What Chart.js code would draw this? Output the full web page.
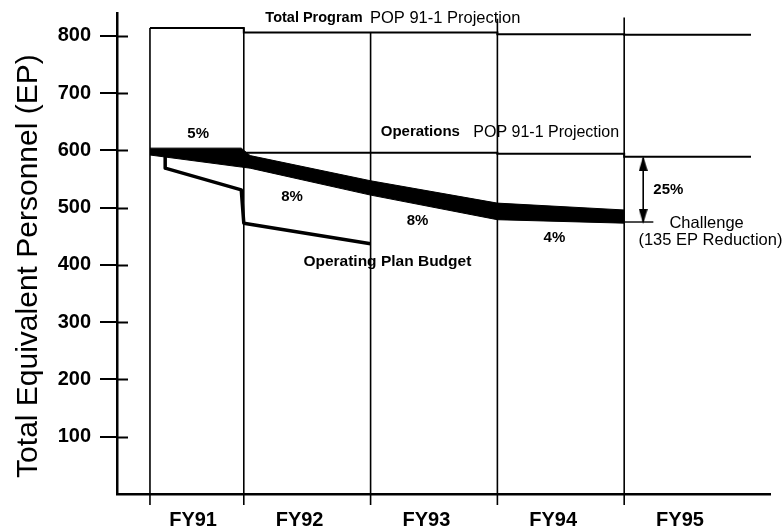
<!DOCTYPE html>
<html>
<head>
<meta charset="utf-8">
<title>Total Equivalent Personnel (EP)</title>
<script src="https://cdn.jsdelivr.net/npm/chart.js@4.4.1/dist/chart.umd.min.js"></script>
<style>
    html, body { margin: 0; padding: 0; background: #fff; }
    #wrap { width: 782px; height: 529px; }
</style>
</head>
<body>
<div id="wrap"><canvas id="chart" width="782" height="529"></canvas></div>
<script>
// fiscal years, x axis in years (FY92 starts at 92)
var fyLabels = ['FY91', 'FY92', 'FY93', 'FY94', 'FY95'];
var fyLabelPos = [91.6, 92.44, 93.44, 94.44, 95.44];
var yTicks = [100, 200, 300, 400, 500, 600, 700, 800];

// year boundaries and how high each boundary line reaches
var boundaryX = [91.26, 92, 93, 94, 95];
var boundaryTop = [814, 814, 806, 830, 832];

// Total Program POP 91-1 projection (level held from each x to the next)
var totalX = [91.26, 92, 93, 94, 95, 96];
var totalY = [814, 806, 806, 803, 802, 802];

// Operations POP 91-1 projection
var opsX = [92, 94, 95, 96];
var opsY = [596, 594, 589, 589];

// challenge band (upper and lower edge)
var bandX = [91.26, 91.98, 92.05, 93, 94, 95];
var bandTop = [604, 604, 591, 547, 508, 496];
var bandBottom = [592, 571, 569, 522, 479, 473];

// Operating Plan Budget
var planX = [91.38, 91.38, 91.98, 92, 93];
var planY = [592, 569, 531, 473, 437];

// 25% arrow
var arrowX = [95.15, 95.15];
var arrowY = [587, 475];
var arrowHeadY = [577, 485];
var challengeX = [95, 95.23];
var challengeY = [475, 475];

;(function (document, window) {
    'use strict';

    var FONT = "'Liberation Sans', Arial, Helvetica, sans-serif";

    function pts(xs, ys) {
        return xs.map(function (x, i) {
            return {x: x, y: ys[i]};
        });
    }

    function lineSet(data, width, extra) {
        var ds = {
            data: data,
            borderColor: '#000',
            backgroundColor: '#000',
            borderWidth: width,
            pointRadius: 0,
            fill: false,
            tension: 0
        };
        for (var k in extra) {
            ds[k] = extra[k];
        }
        return ds;
    }

    // arrow head used as point style
    function arrowHead() {
        var c = document.createElement('canvas');
        c.width = 9;
        c.height = 15;
        var g = c.getContext('2d');
        g.fillStyle = '#000';
        g.beginPath();
        g.moveTo(4.5, 0);
        g.lineTo(9, 15);
        g.lineTo(0, 15);
        g.closePath();
        g.fill();
        return c;
    }

    var datasets = [];

    boundaryX.forEach(function (bx, i) {
        datasets.push(lineSet(pts([bx, bx], [-19, boundaryTop[i]]), 1.6, {clip: false}));
    });
    datasets.push(lineSet(pts(totalX, totalY), 2, {stepped: true}));
    datasets.push(lineSet(pts(opsX, opsY), 2, {stepped: true}));
    datasets.push(lineSet(pts(bandX, bandTop), 1, {}));
    datasets.push(lineSet(pts(bandX, bandBottom), 1, {fill: '-1'}));
    datasets.push(lineSet(pts(planX, planY), 3.5, {borderJoinStyle: 'round'}));
    datasets.push(lineSet(pts(arrowX, arrowY), 1.6, {}));
    datasets.push(lineSet(pts(challengeX, challengeY), 1.4, {}));
    var head = arrowHead();
    datasets.push({
        data: pts(arrowX, arrowHeadY),
        showLine: false,
        pointStyle: head,
        pointRotation: [0, 180],
        pointRadius: 8,
        borderWidth: 0
    });

    // text placed on the plot, x/y in data units
    var notes = [
        {text: 'Total Program', x: 92.17, y: 831, weight: 'bold', size: 14.5, align: 'left'},
        {text: 'POP 91-1 Projection', x: 92.995, y: 831, weight: 'normal', size: 16.5, align: 'left'},
        {text: 'Operations', x: 93.08, y: 632, weight: 'bold', size: 15, align: 'left'},
        {text: 'POP 91-1 Projection', x: 93.81, y: 632, weight: 'normal', size: 16, align: 'left'},
        {text: '5%', x: 91.64, y: 629, weight: 'bold', size: 15, align: 'center'},
        {text: '8%', x: 92.38, y: 519, weight: 'bold', size: 15, align: 'center'},
        {text: '8%', x: 93.37, y: 477, weight: 'bold', size: 15, align: 'center'},
        {text: '4%', x: 94.45, y: 447, weight: 'bold', size: 15, align: 'center'},
        {text: '25%', x: 95.23, y: 531, weight: 'bold', size: 15, align: 'left'},
        {text: 'Challenge', x: 95.65, y: 473, weight: 'normal', size: 16.5, align: 'center'},
        {text: '(135 EP Reduction)', x: 95.68, y: 442, weight: 'normal', size: 16.5, align: 'center'},
        {text: 'Operating Plan Budget', x: 92.47, y: 405, weight: 'bold', size: 15.5, align: 'left'}
    ];

    var notesPlugin = {
        id: 'notes',
        afterDraw: function (chart) {
            var ctx = chart.ctx;
            var xs = chart.scales.x;
            var ys = chart.scales.y;
            var area = chart.chartArea;

            ctx.save();
            ctx.fillStyle = '#000';
            ctx.textBaseline = 'middle';
            notes.forEach(function (n) {
                ctx.font = n.weight + ' ' + n.size + 'px ' + FONT;
                ctx.textAlign = n.align;
                ctx.fillText(n.text, xs.getPixelForValue(n.x), ys.getPixelForValue(n.y));
            });

            // inner half of the y tick marks
            ctx.strokeStyle = '#000';
            ctx.lineWidth = 2;
            yTicks.forEach(function (v) {
                var py = Math.round(ys.getPixelForValue(v)) + 0.5;
                ctx.beginPath();
                ctx.moveTo(area.left, py);
                ctx.lineTo(area.left + 11, py);
                ctx.stroke();
            });

            // axis title
            ctx.translate(area.left - 88, ys.getPixelForValue(398));
            ctx.rotate(-Math.PI / 2);
            ctx.textAlign = 'center';
            ctx.font = 'normal 30px ' + FONT;
            ctx.fillText('Total Equivalent Personnel (EP)', 0, 0);
            ctx.restore();
        }
    };

    new Chart(document.getElementById('chart'), {
        type: 'line',
        data: {datasets: datasets},
        plugins: [notesPlugin],
        options: {
            responsive: false,
            animation: false,
            events: [],
            layout: {padding: {top: 13, right: 12, left: 0, bottom: 0}},
            plugins: {
                legend: {display: false},
                tooltip: {enabled: false}
            },
            scales: {
                x: {
                    type: 'linear',
                    min: 91,
                    max: 96.15,
                    afterBuildTicks: function (scale) {
                        scale.ticks = fyLabelPos.map(function (v) {
                            return {value: v};
                        });
                    },
                    afterFit: function (scale) {
                        scale.height = 35;
                        scale.paddingLeft = 0;
                        scale.paddingRight = 0;
                    },
                    border: {color: '#000', width: 2.5},
                    grid: {display: false},
                    ticks: {
                        autoSkip: false,
                        maxRotation: 0,
                        padding: 6,
                        color: '#000',
                        font: {family: FONT, weight: 'bold', size: 20},
                        callback: function (v, i) {
                            return fyLabels[i];
                        }
                    }
                },
                y: {
                    min: 0,
                    max: 840,
                    afterBuildTicks: function (scale) {
                        scale.ticks = yTicks.map(function (v) {
                            return {value: v};
                        });
                    },
                    afterFit: function (scale) {
                        scale.width = 117;
                        scale.paddingTop = 0;
                        scale.paddingBottom = 0;
                    },
                    border: {color: '#000', width: 2.5},
                    grid: {
                        drawOnChartArea: false,
                        tickLength: 17,
                        color: '#000',
                        lineWidth: 2
                    },
                    ticks: {
                        padding: 9,
                        color: '#000',
                        font: {family: FONT, weight: 'bold', size: 20}
                    }
                }
            }
        }
    });

})(document, window);
</script>
</body>
</html>
